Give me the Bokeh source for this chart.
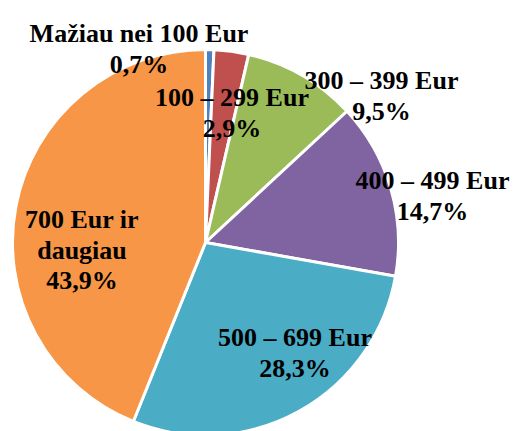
import math
from bokeh.plotting import figure
from bokeh.models import ColumnDataSource, Range1d
from bokeh.core.properties import value
from bokeh.embed import file_html
from bokeh.resources import INLINE

# ---- data ----
categories = ["Mažiau nei 100 Eur", "100 – 299 Eur", "300 – 399 Eur",
              "400 – 499 Eur", "500 – 699 Eur", "700 Eur ir\ndaugiau"]
shares = [0.7, 2.9, 9.5, 14.7, 28.3, 43.9]
colors = ["#4F81BD", "#C0504D", "#9BBB59", "#8064A2", "#4BACC6", "#F79646"]

# ---- layout (page pixel coordinates) ----
W, H = 516, 431
center_px = (205, 242)
radius_px = 193
# label anchor: centre x, first baseline y (page px)
label_pos = [(138.5, 33), (231.5, 97), (381, 80), (432, 180), (294.5, 337), (81.5, 219)]
line_step = 30.5

def py(y):
    return H - y

total = sum(shares)
starts, ends = [], []
cum = 0.0
for v in shares:
    a_before = math.pi / 2 - 2 * math.pi * cum / total
    cum += v
    a_after = math.pi / 2 - 2 * math.pi * cum / total
    starts.append(a_after)
    ends.append(a_before)

src = ColumnDataSource(dict(start=starts, end=ends, color=colors))

p = figure(width=W, height=H, output_backend="svg", toolbar_location=None,
           x_range=Range1d(0, W), y_range=Range1d(0, H),
           x_axis_type=None, y_axis_type=None, min_border=0)
p.outline_line_color = None
p.grid.visible = False
p.background_fill_color = "white"
p.border_fill_color = "white"

p.wedge(x=center_px[0], y=py(center_px[1]), radius=radius_px, radius_units="screen",
        start_angle="start", end_angle="end", direction="anticlock",
        fill_color="color", line_color="white", line_width=3, source=src)

tx, ty, tt = [], [], []
for cat, v, (lx, ly) in zip(categories, shares, label_pos):
    lines = cat.split("\n") + [f"{v:.1f}%".replace(".", ",")]
    for i, ln in enumerate(lines):
        tx.append(lx)
        ty.append(py(ly + i * line_step))
        tt.append(ln)

p.text(x=tx, y=ty, text=tt, text_font=value("Liberation Serif"),
       text_font_style="bold", text_font_size="26px", text_align="center",
       text_baseline="alphabetic", text_color="black")

open("out.html", "w").write(file_html(p, INLINE))
